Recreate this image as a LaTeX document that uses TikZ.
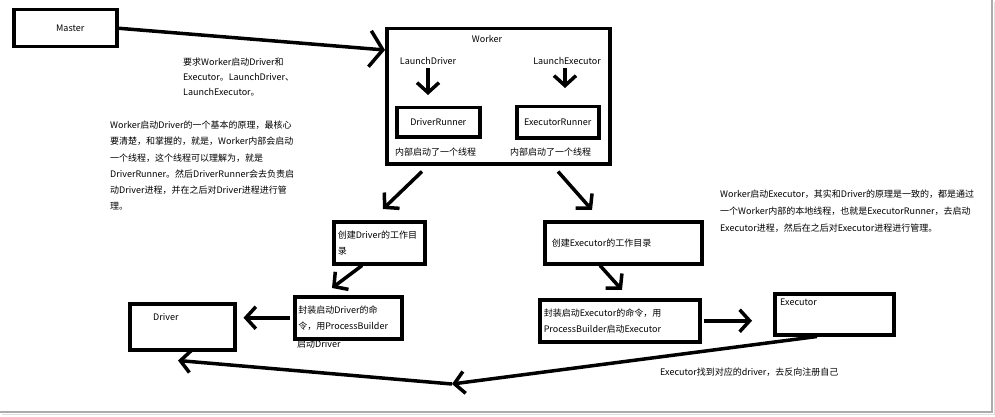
\documentclass[tikz,border=0pt]{standalone}
\usepackage{fontspec}
\setmainfont{Noto Sans CJK SC}
\usetikzlibrary{positioning,arrows.meta}

\begin{document}
\begin{tikzpicture}[x=1pt,y=-1pt,
  every node/.style={font=\fontsize{9}{16}\selectfont},
  boxes/.style 2 args={rectangle,draw,line width=3.5pt,anchor=north west,align=left,minimum width=#1,minimum height=#2,inner xsep=3pt},
  notes/.style={align=left,anchor=north west,inner sep=0pt},
  tags/.style={inner sep=0pt},
  arr/.style={line width=3.5pt,-{Straight Barb[length=10pt,width=22pt]}},
]
\useasboundingbox (0,0) rectangle (995,417);
% frame shadow
\draw[gray!65,line width=1.5pt] (992,0) -- (992,412) -- (0,412);
\draw[gray!25,line width=1pt] (994,2) -- (994,414) -- (2,414);

% master and worker
\node (master) [boxes={103}{37},align=center] at (12,8) {\hspace{10pt}Master};
\node (worker) [boxes={223}{135}] at (385,27) {};
\node (workertitle) [tags] at (487,39) {Worker};
\node (launchdrv) [tags] at (428,61) {LaunchDriver};
\node (launchexec) [tags] at (567,61) {LaunchExecutor};
\node (drvrunner) [boxes={83}{29}] at (395,106) {DriverRunner};
\node (execrunner) [boxes={82}{31}] at (515,105) {ExecutorRunner};
\node (drvthread) [tags,anchor=west] at (395,152) {内部启动了一个线程};
\node (execthread) [tags,anchor=west] at (510,152) {内部启动了一个线程};

% steps
\node (drvdir) [boxes={91}{42},text width=83pt] at (332,220) {创建Driver的工作目\\录};
\node (execdir) [boxes={157}{42},text width=143pt] at (543,220) {创建Executor的工作目录};
\node (procdrv) [boxes={107}{42},text width=100pt] at (293,295) {封装启动Driver的命\\令，用ProcessBuilder};
\node (procdrvtail) [tags,anchor=west] at (297,344) {启动Driver};
\node (procexec) [boxes={160}{42},text width=152pt] at (538,298) {封装启动Executor的命令，用\\ProcessBuilder启动Executor};
\node (drv) [boxes={105}{46}] at (128,302) {};
\node (drvtxt) [tags,below right=11pt and 25pt of drv.north west,anchor=north west] {Driver};
\node (exec) [boxes={119}{41}] at (773,292) {};
\node (exectxt) [tags,below right=7pt and 7pt of exec.north west,anchor=north west] {Executor};
\coordinate (mid) at (452,384);

% notes
\node (asknote) [notes,font=\fontsize{9}{15}\selectfont] at (183,58) {要求Worker启动Driver和\\Executor。LaunchDriver、\\LaunchExecutor。};
\node (drvnote) [notes,font=\fontsize{9}{16.2}\selectfont] at (110,121) {Worker启动Driver的一个基本的原理，最核心\\要清楚，和掌握的，就是，Worker内部会启动\\一个线程，这个线程可以理解为，就是\\DriverRunner。然后DriverRunner会去负责启\\动Driver进程，并在之后对Driver进程进行管\\理。};
\node (execnote) [notes,font=\fontsize{9}{17}\selectfont] at (720,190) {Worker启动Executor，其实和Driver的原理是一致的，都是通过\\一个Worker内部的本地线程，也就是ExecutorRunner，去启动\\Executor进程，然后在之后对Executor进程进行管理。};
\node (regnote) [tags,anchor=west] at (660,372) {Executor找到对应的driver，去反向注册自己};

% connectors
\draw[arr,-{Straight Barb[length=13pt,width=36pt]}] (master.east) -- ([yshift=-23pt]worker.north west);
\draw[arr] ([yshift=-3pt]launchdrv.south) -- ([yshift=11pt]launchdrv.south |- drvrunner.north);
\draw[arr] ([xshift=-2pt,yshift=-3pt]launchexec.south) -- ([xshift=-2pt,yshift=17pt]launchexec.south |- execrunner.north);
\draw[arr] ([xshift=37pt,yshift=-6pt]worker.south west) -- ([xshift=51pt,yshift=11pt]drvdir.north west);
\draw[arr] ([xshift=173pt,yshift=-6pt]worker.south west) -- ([xshift=49pt,yshift=10pt]execdir.north west);
\draw[arr] ([xshift=30pt]drvdir.south west) -- ([xshift=39pt,yshift=7pt]procdrv.north west);
\draw[arr] ([xshift=57pt]execdir.south west) -- ([xshift=84pt,yshift=8pt]procexec.north west);
\draw[arr] ([xshift=-3pt]procdrv.west) -- ([xshift=7pt]procdrv.west -| drv.east);
\draw[arr] ([xshift=2pt]procexec.east) -- ([xshift=-21pt]procexec.east -| exec.west);
\draw[arr] ([xshift=44pt]exec.south west) -- (mid);
\draw[arr] (mid) -- ([xshift=50pt,yshift=-9pt]drv.south west);
\end{tikzpicture}
\end{document}
